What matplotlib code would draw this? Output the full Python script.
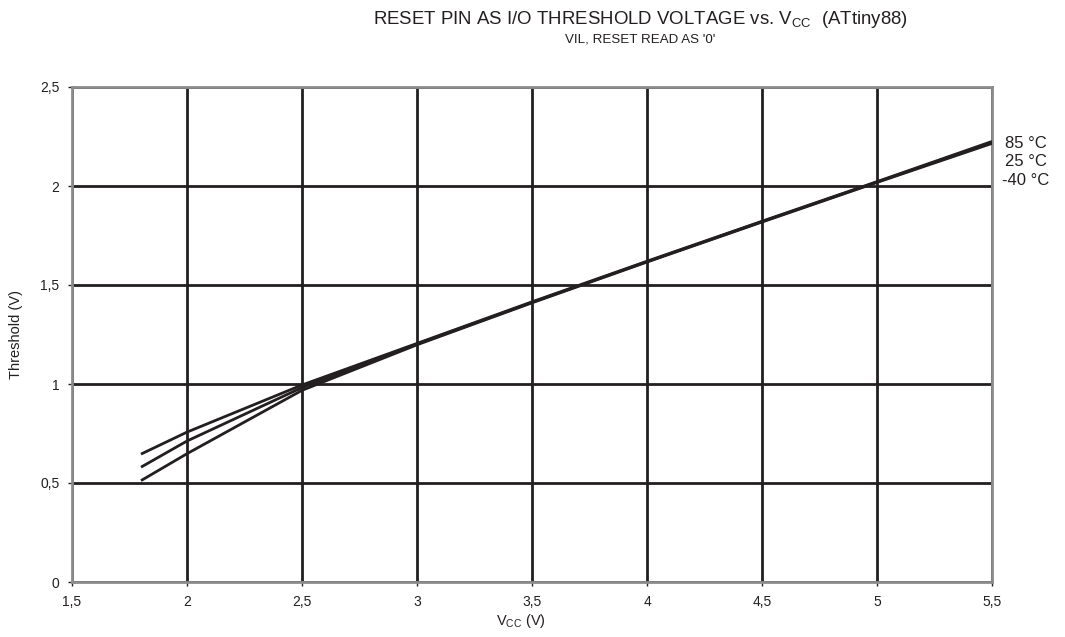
import matplotlib
matplotlib.use("Agg")
import matplotlib.pyplot as plt

plt.rcParams['font.family'] = ['Liberation Sans', 'DejaVu Sans']
plt.rcParams['mathtext.fontset'] = 'custom'
plt.rcParams['mathtext.rm'] = 'Liberation Sans'

vcc = [1.8, 2.0, 2.5, 3.0, 3.5, 4.0, 4.5, 5.0, 5.5]
th_85 = [0.646, 0.757, 0.995, 1.205, 1.415, 1.620, 1.822, 2.022, 2.225]
th_25 = [0.580, 0.712, 0.982, 1.202, 1.412, 1.618, 1.820, 2.020, 2.220]
th_m40 = [0.512, 0.648, 0.968, 1.198, 1.410, 1.616, 1.818, 2.018, 2.215]
series_labels = ['85 °C', '25 °C', '-40 °C']

xticks = [1.5, 2, 2.5, 3, 3.5, 4, 4.5, 5, 5.5]
xticklabels = ['1,5', '2', '2,5', '3', '3,5', '4', '4,5', '5', '5,5']
yticks = [0, 0.5, 1, 1.5, 2, 2.5]
yticklabels = ['0', '0,5', '1', '1,5', '2', '2,5']

dark = '#231f20'
fig = plt.figure(figsize=(10.65, 6.37), dpi=100)
ax = fig.add_axes([72/1065, 55/637, 920/1065, 495/637])

for ys in (th_85, th_25, th_m40):
    ax.plot(vcc, ys, color=dark, lw=2.0, zorder=3, solid_capstyle='butt')

ax.set_xlim(1.5, 5.5)
ax.set_ylim(0, 2.5)
ax.set_xticks(xticks)
ax.set_xticklabels(xticklabels, fontsize=10)
ax.set_yticks(yticks)
ax.set_yticklabels(yticklabels, fontsize=10)
ax.grid(True, color=dark, lw=2.0, zorder=1)
ax.set_axisbelow(True)
for s in ax.spines.values():
    s.set_color('#8c8c8c')
    s.set_linewidth(2.0)
    s.set_zorder(2.5)
ax.tick_params(direction='inout', length=6, width=1, color=dark, pad=6, labelcolor=dark)

ax.set_ylabel('Threshold (V)', fontsize=10.5, labelpad=12, color=dark)
fig.text(521/1065, 1 - 621/637, 'V$_{\\mathregular{CC}}$ (V)', fontsize=10.5, ha='center', va='center', color=dark)

for i, lab in enumerate(series_labels):
    fig.text(1026/1065, 1 - (144 + 18*i)/637, lab, fontsize=12, ha='center', va='center', color=dark)

fig.text(640/1065, 1 - 20/637, 'RESET PIN AS I/O THRESHOLD VOLTAGE vs. V$_{\\mathregular{CC}}$  (ATtiny88)',
         fontsize=13.4, ha='center', va='center', color=dark)
fig.text(640/1065, 1 - 40/637, "VIL, RESET READ AS '0'", fontsize=9.6, ha='center', va='center', color=dark)

fig.savefig('out.png', dpi=100)
